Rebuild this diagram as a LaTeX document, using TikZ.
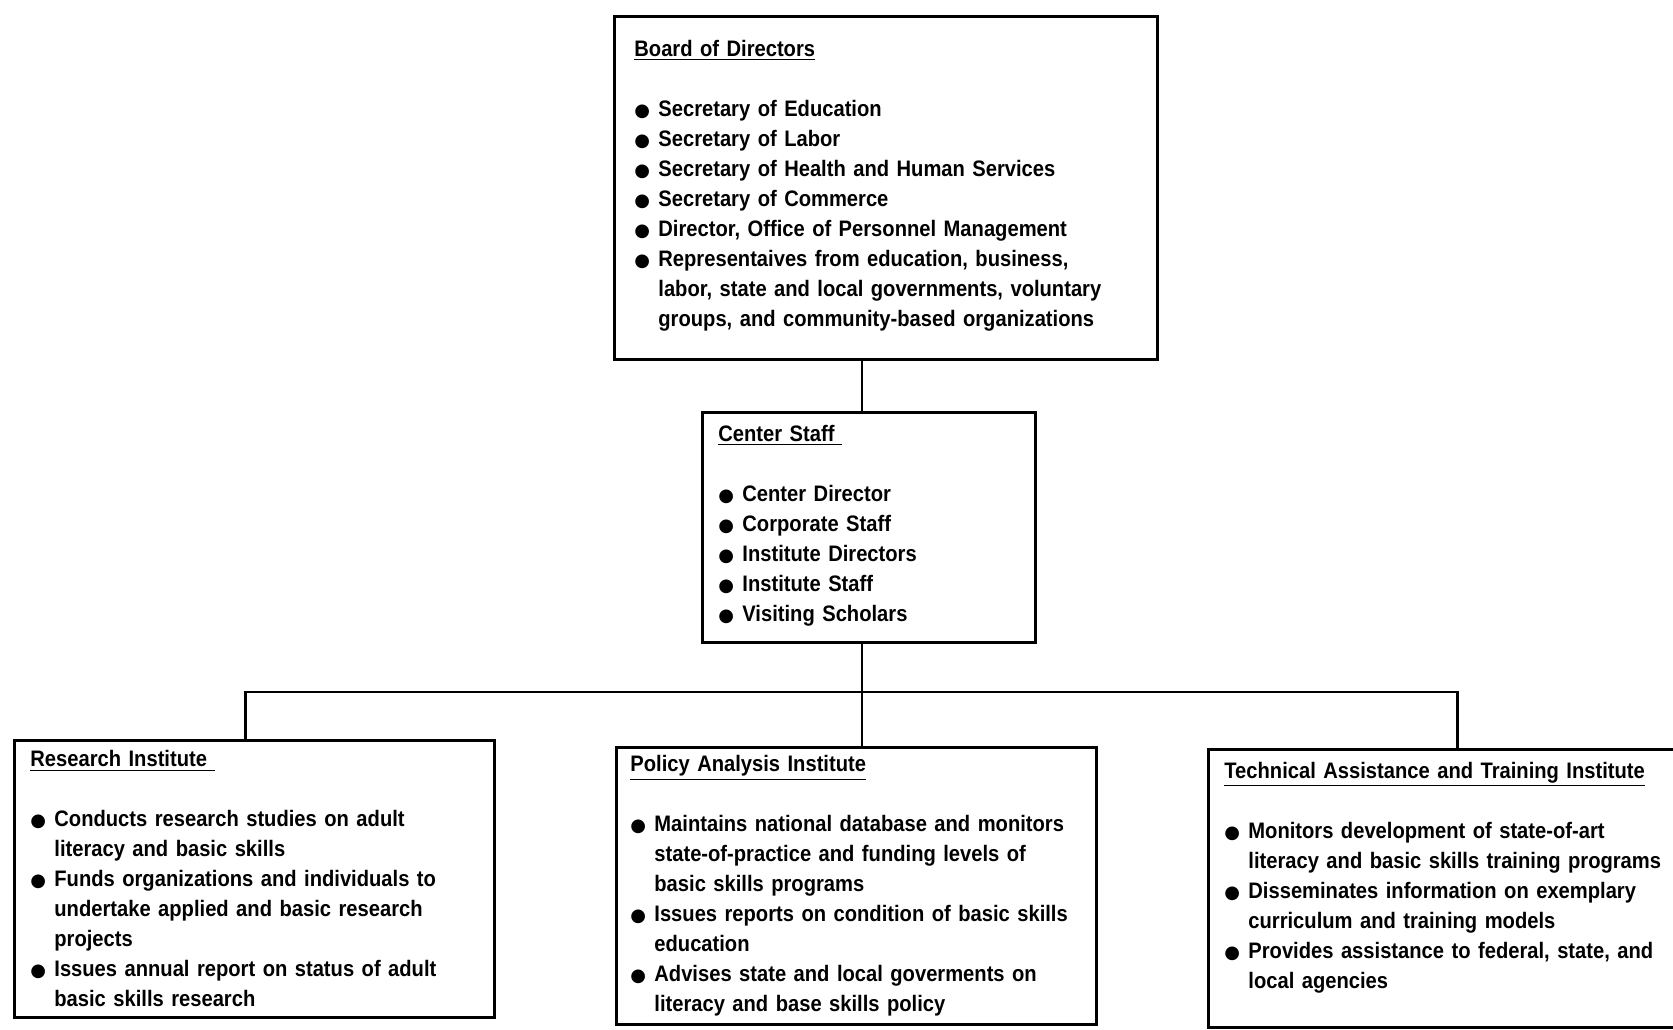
\documentclass[tikz,border=0pt]{standalone}
\usepackage{fontspec}
\newfontfamily\chartfont{Liberation Sans Bold}[FakeStretch=0.9]
\newfontfamily\dotfont{DejaVu Sans}
\usepackage{tikz}
\hyphenpenalty=10000

\newcommand{\blob}{{\dotfont\fontsize{9}{9}\selectfont ●}}
\newcommand{\itm}{\par\hangindent=12pt\hangafter=1\noindent\makebox[12pt][l]{\blob}}
\newcommand{\lift}[1]{\par\kern#1\hrule height0pt depth0pt}

\begin{document}
\begin{tikzpicture}[x=0.5pt,y=-0.5pt]
                \useasboundingbox (0,0) rectangle (1673,1029);
                \begin{scope}[every node/.style = {draw, line width=1.4pt, anchor=north west, align=left,
                                inner xsep=8pt, inner ysep=4pt,
                                font=\chartfont\fontsize{11.2}{15}\selectfont}]
                    \node[text width=251.5pt, minimum height=171.5pt, inner xsep=10pt] (board) at (613,15) {%
                        \underline{Board of Directors}\par\vskip15pt
                        \itm Secretary of Education
                        \itm Secretary of Labor
                        \itm Secretary of Health and Human Services
                        \itm Secretary of Commerce
                        \itm Director, Office of Personnel Management
                        \itm Representaives from education, business,\newline labor, state and local governments, voluntary\newline groups, and community-based organizations\lift{2pt}};
                    \node[text width=150.5pt, minimum height=115pt] (staff) at (701,411) {%
                        \underline{Center Staff\ }\par\vskip15pt
                        \itm Center Director
                        \itm Corporate Staff
                        \itm Institute Directors
                        \itm Institute Staff
                        \itm Visiting Scholars\lift{2pt}};
                    \node[text width=224pt, minimum height=138.5pt] (research) at (13,739) {%
                        \underline{Research Institute\ }\par\vskip15pt
                        \itm Conducts research studies on adult\newline literacy and basic skills
                        \itm Funds organizations and individuals to\newline undertake applied and basic research\newline projects
                        \itm Issues annual report on status of adult\newline basic skills research\par};
                    \node[text width=226pt, minimum height=137pt, inner xsep=7pt] (policy) at (615,746) {%
                        \underline{Policy Analysis Institute}\par\vskip15pt
                        \itm Maintains national database and monitors\newline state-of-practice and funding levels of\newline basic skills programs
                        \itm Issues reports on condition of basic skills\newline education
                        \itm Advises state and local goverments on\newline literacy and base skills policy\par};
                    \node[text width=225.5pt, minimum height=139pt] (tech) at (1207,748) {%
                        \underline{Technical Assistance and Training Institute}\par\vskip15pt
                        \itm Monitors development of state-of-art\newline literacy and basic skills training programs
                        \itm Disseminates information on exemplary\newline curriculum and training models
                        \itm Provides assistance to federal, state, and\newline local agencies\lift{11pt}};
                \end{scope}

                \begin{scope}[line width=1.4pt]
                    \coordinate (hub) at (862,692);
                    \draw (board.south -| hub) -- (staff.north -| hub);
                    \draw (staff.south -| hub) -- (policy.north -| hub);
                    \draw ([xshift=-4.5pt]research.north) |- (hub) -| ([xshift=3.75pt]tech.north);
                \end{scope}
            \end{tikzpicture}
\end{document}
